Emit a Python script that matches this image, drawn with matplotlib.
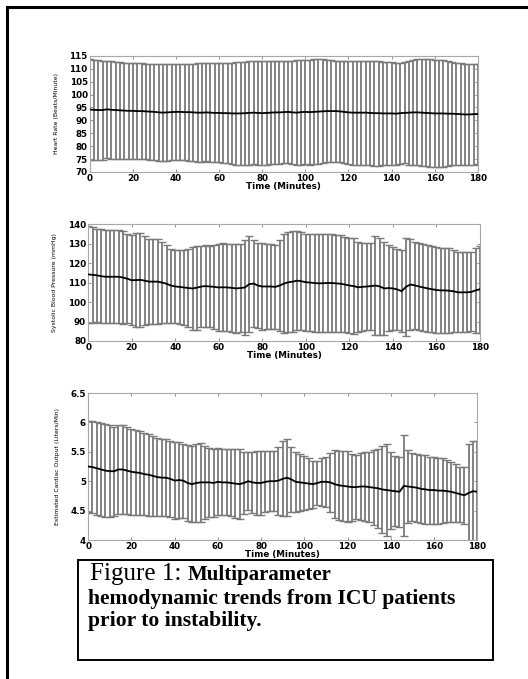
import numpy as np
import matplotlib
matplotlib.use("Agg")
import matplotlib.pyplot as plt
from matplotlib.patches import Rectangle
from matplotlib.lines import Line2D

# sample times (minutes)
minutes = list(range(0, 181, 2))

# heart rate (beats/minute)
hr_mean = [94.2, 94.1, 94.0, 94.0, 94.3, 94.1,
           94.0, 93.9, 93.8, 93.7, 93.7, 93.6, 93.6, 93.5, 93.4, 93.3,
           93.1, 93.0, 93.1, 93.2, 93.3, 93.3, 93.2, 93.2, 93.1, 93.0,
           93.0, 93.1, 93.0, 92.9, 92.9, 92.8, 92.8, 92.7, 92.7, 92.7,
           92.8, 92.9, 93.0, 92.9, 92.8, 92.9, 93.0, 93.1, 93.1, 93.2,
           93.3, 93.1, 93.0, 93.2, 93.3, 93.2, 93.3, 93.4, 93.5, 93.6,
           93.6, 93.6, 93.5, 93.3, 93.1, 93.0, 93.0, 93.0, 93.0, 92.9,
           92.8, 92.8, 92.7, 92.7, 92.7, 92.6, 92.8, 92.9, 93.0, 93.1,
           93.1, 93.0, 92.9, 92.8, 92.7, 92.7, 92.7, 92.6, 92.6, 92.5,
           92.4, 92.3, 92.3, 92.4, 92.5]
hr_sd = [19.4, 19.4, 19.3, 19.2, 18.8, 18.9,
         18.8, 18.7, 18.6, 18.6, 18.5, 18.6, 18.5, 18.5, 18.6, 18.7,
         18.8, 18.9, 18.7, 18.6, 18.5, 18.5, 18.7, 18.8, 18.9, 19.1,
         19.1, 19.0, 19.1, 19.2, 19.2, 19.4, 19.5, 19.7, 19.8, 19.9,
         20.0, 20.0, 20.0, 20.1, 20.2, 20.1, 20.0, 20.0, 19.9, 19.9,
         19.9, 20.1, 20.3, 20.3, 20.2, 20.3, 20.3, 20.2, 20.1, 19.8,
         19.7, 19.6, 19.6, 19.8, 20.0, 20.1, 20.2, 20.2, 20.2, 20.3,
         20.4, 20.3, 20.1, 19.9, 19.8, 19.7, 19.6, 19.6, 20.2, 20.4,
         20.5, 20.6, 20.7, 20.8, 20.8, 20.8, 20.6, 20.4, 20.0, 19.8,
         19.7, 19.6, 19.6, 19.5, 19.5]

# systolic blood pressure (mmHg)
sbp_mean = [114.2, 114.0, 113.7, 113.3, 113.0, 113.0,
            113.0, 113.0, 112.6, 112.0, 111.2, 111.3, 111.4, 111.0, 110.5, 110.5,
            110.5, 110.0, 109.4, 108.5, 108.0, 107.8, 107.5, 107.2, 107.0, 107.4,
            108.0, 108.2, 108.0, 107.8, 107.5, 107.6, 107.5, 107.3, 107.0, 107.2,
            107.5, 109.2, 109.5, 108.5, 108.0, 108.0, 108.0, 107.8, 108.5, 109.5,
            110.2, 110.5, 111.0, 110.7, 110.2, 110.0, 109.8, 109.6, 109.7, 109.8,
            109.8, 109.6, 109.4, 109.0, 108.5, 108.2, 107.6, 107.8, 108.0, 108.2,
            108.5, 108.0, 107.0, 107.2, 107.0, 106.5, 105.6, 107.8, 109.0, 108.6,
            108.0, 107.5, 107.0, 106.6, 106.2, 106.0, 106.0, 105.8, 105.5, 105.0,
            105.0, 105.0, 105.2, 106.0, 106.6]
sbp_sd = [25.0, 24.5, 24.0, 24.0, 24.0, 24.0,
          24.0, 24.0, 23.8, 23.0, 23.0, 24.2, 24.0, 23.0, 22.0, 22.0,
          22.0, 21.0, 20.0, 19.0, 19.0, 19.2, 19.4, 20.0, 21.5, 21.6,
          21.0, 21.0, 21.0, 21.5, 22.5, 22.5, 22.5, 22.5, 23.0, 22.5,
          24.5, 24.5, 22.5, 22.0, 22.5, 22.0, 22.0, 21.5, 23.5, 25.5,
          25.8, 26.0, 25.5, 25.3, 25.0, 25.0, 25.0, 25.2, 25.1, 25.0,
          25.0, 25.0, 25.0, 24.5, 24.5, 24.5, 23.2, 22.7, 22.5, 22.3,
          25.5, 25.0, 24.0, 22.0, 21.5, 21.0, 21.0, 25.0, 23.5, 22.4,
          22.5, 22.5, 22.5, 22.2, 22.0, 22.0, 22.0, 21.8, 21.0, 20.5,
          20.5, 20.5, 20.3, 22.0, 22.4]

# estimated cardiac output (liters/min)
co_mean = [5.25, 5.24, 5.22, 5.20, 5.18, 5.17, 5.17, 5.20, 5.20, 5.18,
           5.16, 5.15, 5.14, 5.12, 5.11, 5.09, 5.07, 5.06, 5.06, 5.04,
           5.01, 5.02, 5.01, 4.97, 4.95, 4.97, 4.98, 4.98, 4.98, 4.97,
           4.99, 4.98, 4.98, 4.97, 4.96, 4.95, 4.97, 5.00, 4.98, 4.97,
           4.97, 4.99, 5.00, 5.00, 5.01, 5.04, 5.06, 5.03, 4.99, 4.98,
           4.97, 4.96, 4.95, 4.97, 4.99, 4.99, 4.98, 4.95, 4.93, 4.92,
           4.91, 4.90, 4.90, 4.91, 4.91, 4.90, 4.89, 4.88, 4.86, 4.85,
           4.84, 4.83, 4.82, 4.92, 4.91, 4.90, 4.89, 4.87, 4.86, 4.85,
           4.85, 4.84, 4.84, 4.83, 4.82, 4.80, 4.78, 4.76, 4.80, 4.83,
           4.82]
co_sd = [0.77, 0.78, 0.79, 0.79, 0.79, 0.78, 0.76, 0.75, 0.76, 0.74,
         0.73, 0.72, 0.71, 0.70, 0.70, 0.68, 0.67, 0.66, 0.65, 0.65,
         0.65, 0.64, 0.63, 0.64, 0.65, 0.67, 0.67, 0.62, 0.59, 0.58,
         0.57, 0.56, 0.56, 0.57, 0.58, 0.59, 0.52, 0.49, 0.52, 0.54,
         0.54, 0.52, 0.51, 0.51, 0.58, 0.64, 0.66, 0.55, 0.51, 0.49,
         0.46, 0.44, 0.40, 0.38, 0.41, 0.43, 0.50, 0.58, 0.59, 0.60,
         0.60, 0.57, 0.55, 0.57, 0.58, 0.60, 0.64, 0.67, 0.74, 0.78,
         0.65, 0.60, 0.60, 0.86, 0.62, 0.58, 0.58, 0.58, 0.58, 0.57,
         0.57, 0.56, 0.55, 0.53, 0.51, 0.49, 0.47, 0.48, 0.83, 0.85,
         0.86]

x_ticks = [0, 20, 40, 60, 80, 100, 120, 140, 160, 180]
hr_ticks = [70, 75, 80, 85, 90, 95, 100, 105, 110, 115]
sbp_ticks = [80, 90, 100, 110, 120, 130, 140]
co_ticks = [4, 4.5, 5, 5.5, 6, 6.5]
co_tick_labels = ["4", "4.5", "5", "5.5", "6", "6.5"]

x_label = "Time (Minutes)"
hr_label = "Heart Rate (Beats/Minute)"
sbp_label = "Systolic Blood Pressure (mmHg)"
co_label = "Estimated Cardiac Output (Liters/Min)"


def plot_panel(ax, mean, sd, yticks, ylabel, yticklabels=None):
    # error bars first, mean trend on top
    eb = ax.errorbar(minutes, mean, yerr=sd, fmt='none', ecolor='#7a7a7a',
                     elinewidth=1.3, capsize=3.0, capthick=1.0, zorder=1)
    for cap in eb[1]:
        cap.set_color('#c0c0c0')
    ax.plot(minutes, mean, color='black', lw=1.3, zorder=3)
    ax.set_xlim(0, 180)
    ax.set_ylim(yticks[0], yticks[-1])
    ax.set_xticks(x_ticks)
    ax.set_yticks(yticks)
    if yticklabels is not None:
        ax.set_yticklabels(yticklabels)
    for s in ax.spines.values():
        s.set_color('#a8a8a8')
        s.set_linewidth(0.8)
    ax.tick_params(direction='in', length=2.5, width=0.6, color='#808080',
                   top=True, right=True, labelsize=6.3, pad=1.5)
    for lab in ax.get_xticklabels() + ax.get_yticklabels():
        lab.set_fontweight('bold')
    ax.set_xlabel(x_label, fontsize=6.3, fontweight='bold', labelpad=-1)
    ax.set_ylabel(ylabel, fontsize=4.4, family=['Liberation Sans Narrow', 'DejaVu Sans'],
                  labelpad=7.5)


fig = plt.figure(figsize=(5.28, 6.79), dpi=100)

ax1 = fig.add_axes([0.170, 0.7467, 0.735, 0.171])
plot_panel(ax1, hr_mean, hr_sd, hr_ticks, hr_label)

ax2 = fig.add_axes([0.167, 0.4978, 0.742, 0.172])
plot_panel(ax2, sbp_mean, sbp_sd, sbp_ticks, sbp_label)

ax3 = fig.add_axes([0.167, 0.2047, 0.737, 0.2165])
plot_panel(ax3, co_mean, co_sd, co_ticks, co_label, co_tick_labels)

# page border (top and left edges)
W, H = 528.0, 679.0
fig.add_artist(Line2D([7 / W, 1.0], [1 - 6.5 / H, 1 - 6.5 / H], color='black', lw=2.2))
fig.add_artist(Line2D([7 / W, 7 / W], [0.0, 1 - 6.5 / H], color='black', lw=2.2))

# caption box
fig.add_artist(Rectangle((78 / W, 1 - 660 / H), (493 - 78) / W, 100 / H,
                         fill=False, edgecolor='black', lw=1.4))
serif = ['Liberation Serif', 'DejaVu Serif']
t1 = fig.text(90 / W, 1 - 580 / H, "Figure 1: ", family=serif, fontsize=18,
              va='baseline', ha='left')
fig.canvas.draw()
bb = t1.get_window_extent()
fig.text(bb.x1 / W, 1 - 580 / H, "Multiparameter", family=serif, fontsize=15,
         fontweight='bold', va='baseline', ha='left')
fig.text(88 / W, 1 - 604 / H, "hemodynamic trends from ICU patients", family=serif,
         fontsize=15.6, fontweight='bold', va='baseline', ha='left')
fig.text(88 / W, 1 - 626 / H, "prior to instability.", family=serif,
         fontsize=15.6, fontweight='bold', va='baseline', ha='left')

fig.savefig("out.png", dpi=100)
